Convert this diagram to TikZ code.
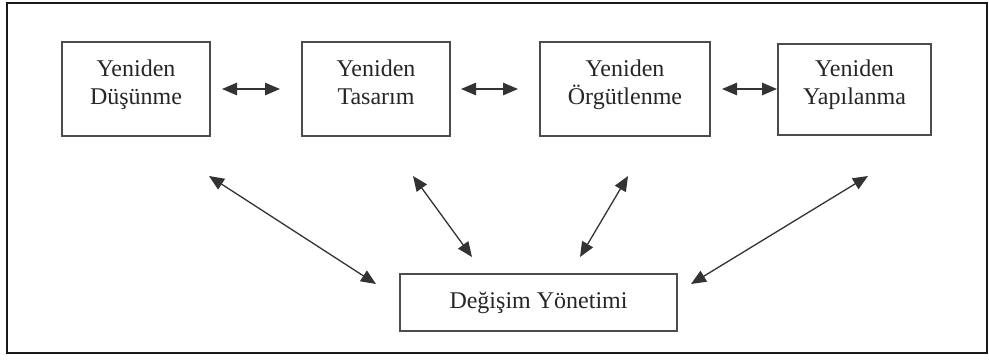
\documentclass[tikz,border=0pt]{standalone}
\usepackage{fontspec}
\setmainfont{Liberation Serif}
\usetikzlibrary{arrows.meta}
\begin{document}
\begin{tikzpicture}[x=1pt,y=-1pt,
  frame/.style={draw=black!90, line width=1.8pt},
  box/.style={draw=black!70, line width=1.4pt, align=center,
    text=black!85, inner sep=0pt,
    font=\fontsize{24}{28}\selectfont},
  % two-line stages: a deeper last line lifts the text block a little
  stage/.style={box, execute at end node={\rule[-14pt]{0pt}{14pt}}},
  twoway/.style={draw=black!80, line width=1.3pt,
    {Triangle[length=15pt,width=12.5pt]}-{Triangle[length=15pt,width=12.5pt]}}
]
\useasboundingbox (0,0) rectangle (989,360);
% outer frame
\path[frame] (7,3) rectangle (987,353);

% the four "Yeniden" stages
\node[stage, minimum width=148pt, minimum height=94pt] (dus) at (136,89)
  {Yeniden\\Düşünme};
\node[stage, minimum width=148pt, minimum height=94pt] (tas) at (376,89)
  {Yeniden\\Tasarım};
\node[stage, minimum width=170pt, minimum height=94pt] (org) at (625,89)
  {Yeniden\\Örgütlenme};
\node[stage, minimum width=153pt, minimum height=91pt] (yap) at (854.5,89.5)
  {Yeniden\\Yapılanma};

% change management at the bottom
\node[box, minimum width=277pt, minimum height=57pt] (dy) at (538.5,302.5)
  {Değişim Yönetimi};

% arrow end points in the gaps between the boxes
\coordinate (h1a) at (222,89);  \coordinate (h1b) at (280,89);
\coordinate (h2a) at (461,89);  \coordinate (h2b) at (518,89);
\coordinate (h3a) at (722,89);  \coordinate (h3b) at (777,89);

\coordinate (d1a) at (209,176); \coordinate (d1b) at (376,284);
\coordinate (d2a) at (413,176); \coordinate (d2b) at (472,257);
\coordinate (d3a) at (628,176); \coordinate (d3b) at (580,257);
\coordinate (d4a) at (868,176); \coordinate (d4b) at (691,284);

% links between neighbouring stages
\draw[twoway] (h1a) -- (h1b);
\draw[twoway] (h2a) -- (h2b);
\draw[twoway] (h3a) -- (h3b);

% links from each stage down to change management
\draw[twoway] (d1a) -- (d1b);
\draw[twoway] (d2a) -- (d2b);
\draw[twoway] (d3a) -- (d3b);
\draw[twoway] (d4a) -- (d4b);
\end{tikzpicture}
\end{document}
